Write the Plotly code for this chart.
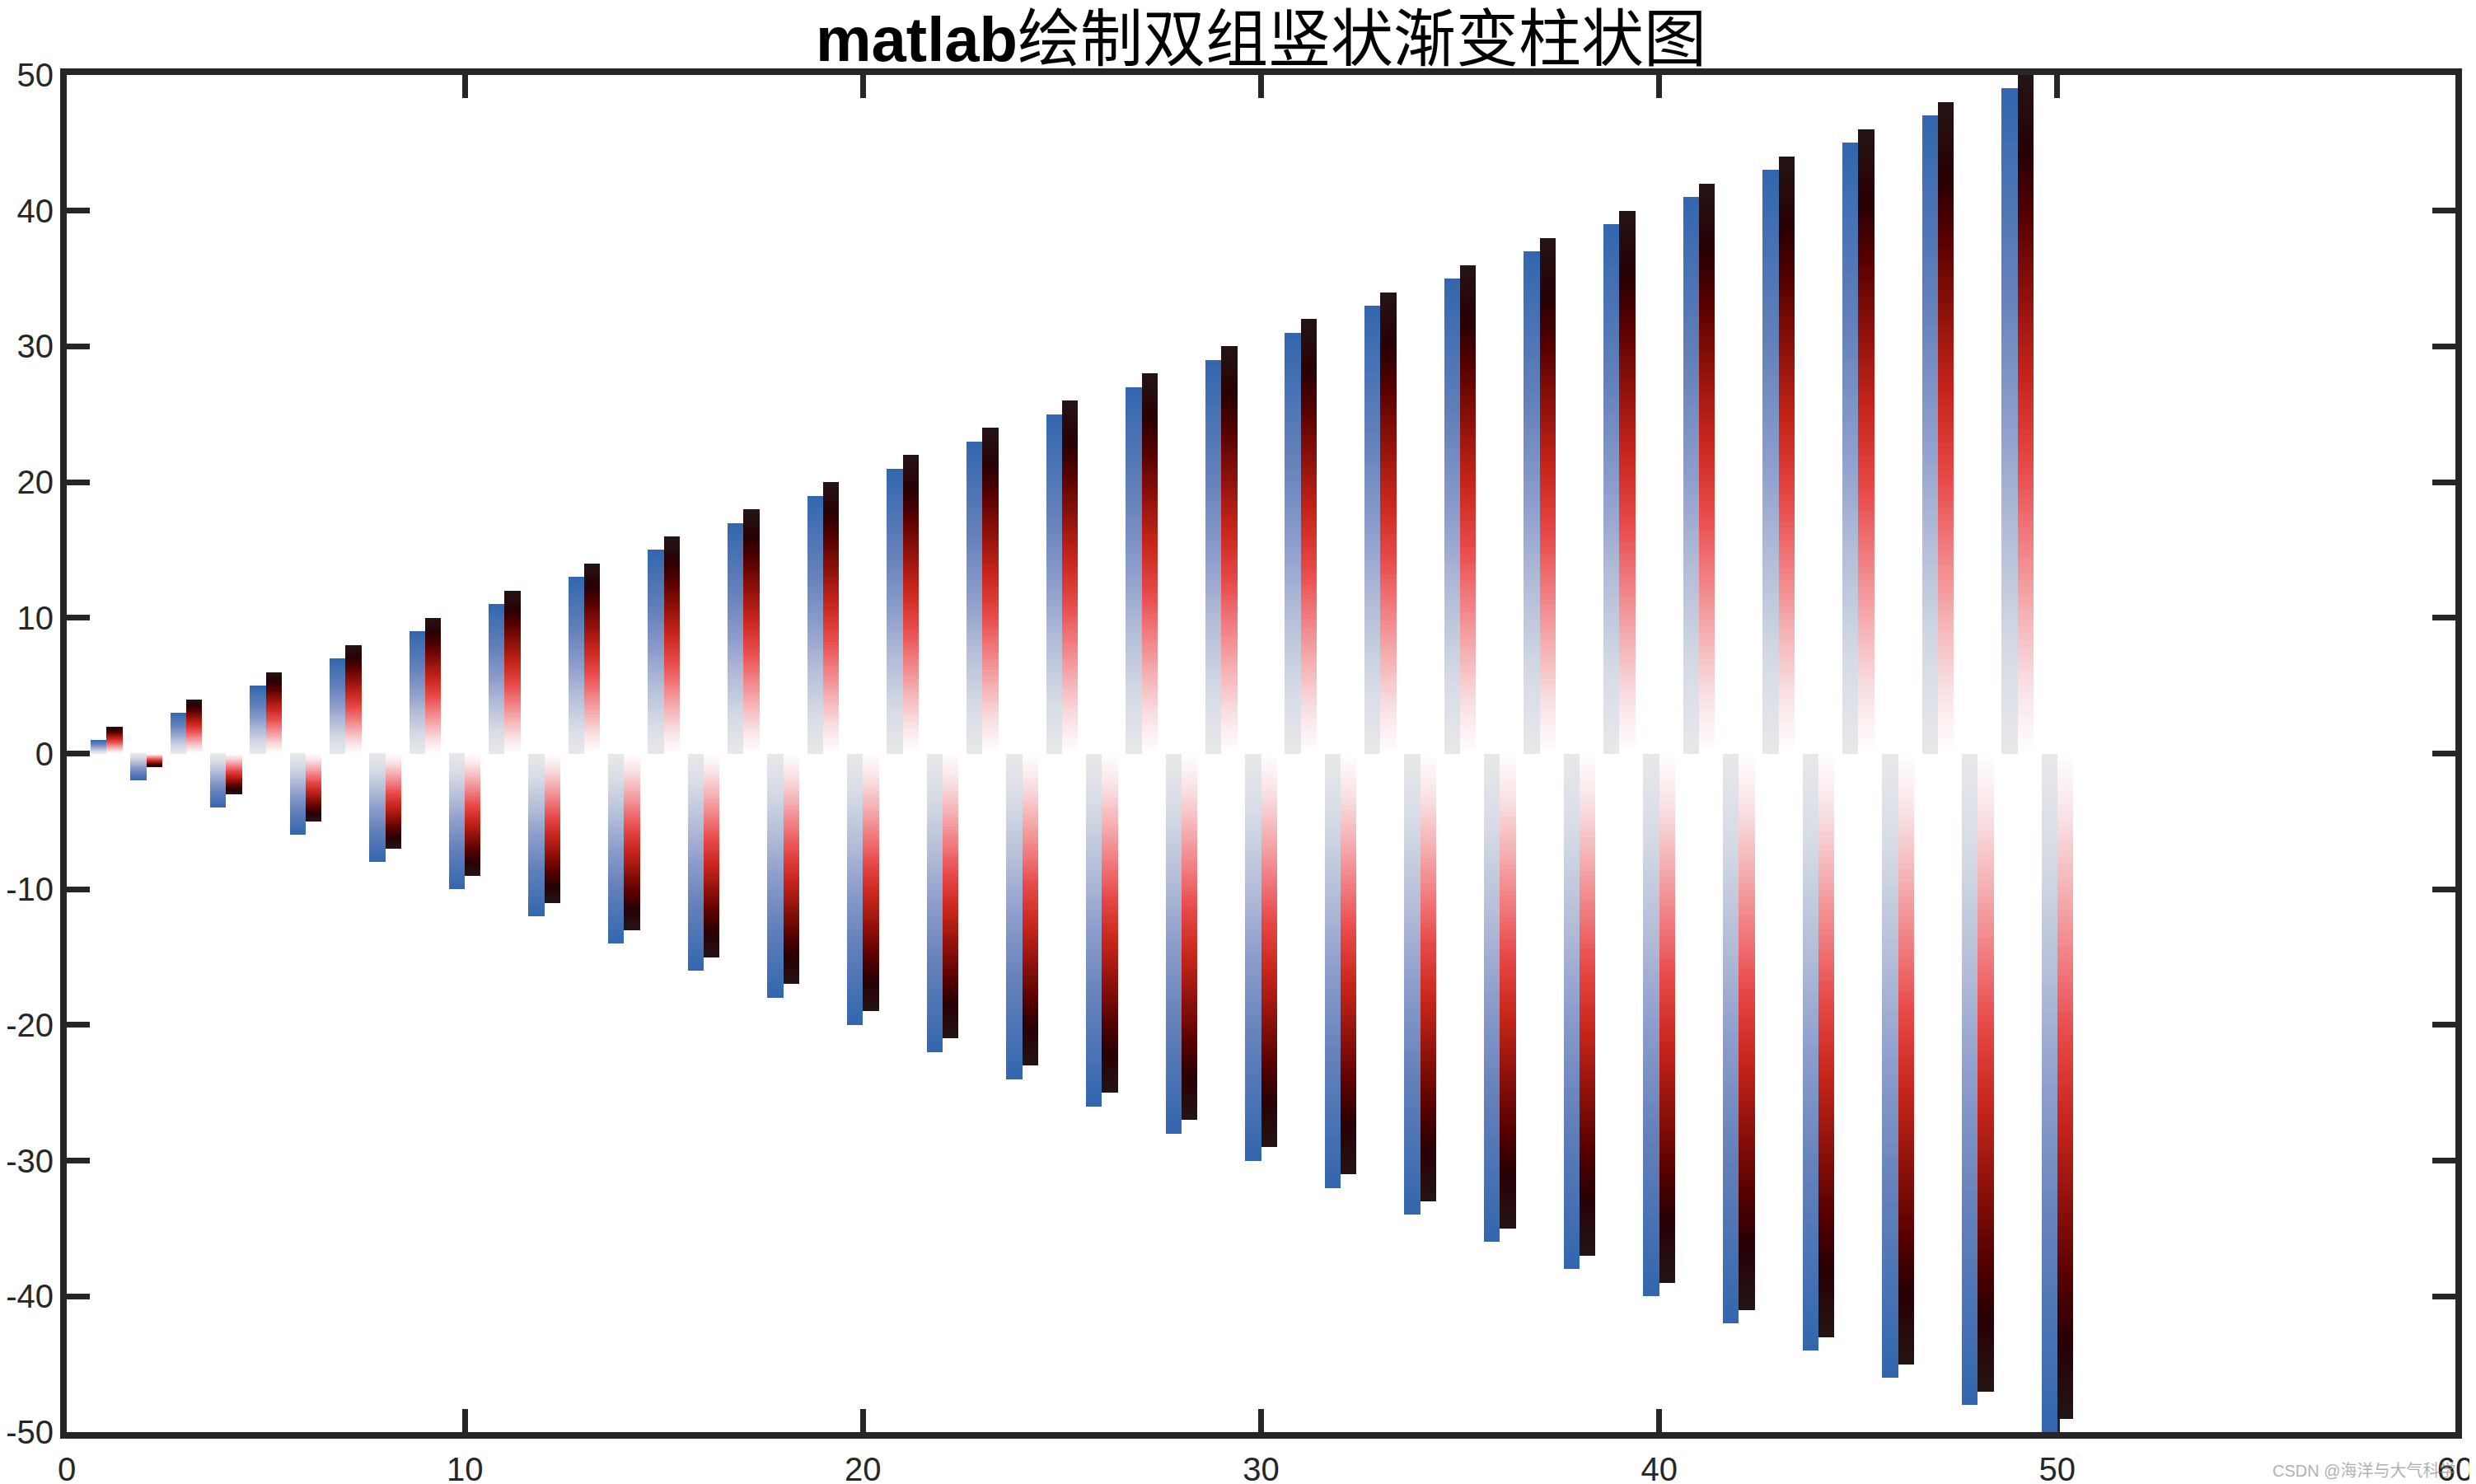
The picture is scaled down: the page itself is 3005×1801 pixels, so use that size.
import numpy as np
import plotly.graph_objects as go

# ---- data ----
x_vals = list(range(1, 51))
blue_vals = [1, -2, 3, -4, 5, -6, 7, -8, 9, -10, 11, -12, 13, -14, 15, -16, 17, -18, 19, -20,
             21, -22, 23, -24, 25, -26, 27, -28, 29, -30, 31, -32, 33, -34, 35, -36, 37, -38, 39, -40,
             41, -42, 43, -44, 45, -46, 47, -48, 49, -50]
red_vals = [2, -1, 4, -3, 6, -5, 8, -7, 10, -9, 12, -11, 14, -13, 16, -15, 18, -17, 20, -19,
            22, -21, 24, -23, 26, -25, 28, -27, 30, -29, 32, -31, 34, -33, 36, -35, 38, -37, 40, -39,
            42, -41, 44, -43, 46, -45, 48, -47, 50, -49]
x_ticks = [0, 10, 20, 30, 40, 50, 60]
y_ticks = [-50, -40, -30, -20, -10, 0, 10, 20, 30, 40, 50]
title_text = "<b>matlab</b>绘制双组竖状渐变柱状图"
watermark = "CSDN @海洋与大气科学"

# ---- gradient colormaps (fraction from base to tip) ----
blue_cmap = [(0.00, (232, 232, 234)), (0.15, (214, 219, 229)), (0.35, (176, 186, 214)),
             (0.50, (141, 157, 204)), (0.70, (100, 129, 186)), (1.00, (50, 102, 174))]
red_cmap = [(0.00, (255, 255, 255)), (0.10, (249, 224, 228)), (0.20, (245, 180, 182)),
            (0.32, (240, 122, 126)), (0.42, (232, 74, 74)), (0.55, (200, 38, 28)),
            (0.68, (140, 16, 10)), (0.80, (82, 0, 0)), (0.88, (40, 0, 4)), (1.00, (36, 20, 20))]


def cmap_color(cmap, t):
    pos = [p for p, _ in cmap]
    cols = np.array([c for _, c in cmap], dtype=float)
    r = np.interp(t, pos, cols[:, 0])
    g = np.interp(t, pos, cols[:, 1])
    b = np.interp(t, pos, cols[:, 2])
    return f"rgb({int(round(r))},{int(round(g))},{int(round(b))})"


NSEG = 90


def gradient_trace(xs, vals, cmap, offset, width, name):
    px, py, pc = [], [], []
    for xv, h in zip(xs, vals):
        # nested bars, longest first so shorter ones lie on top
        for k in range(NSEG, 0, -1):
            px.append(xv)
            py.append(h * k / NSEG)
            pc.append(cmap_color(cmap, (k - 0.5) / NSEG))
    return go.Bar(x=px, y=py, base=0, offset=offset, width=width,
                  marker=dict(color=pc, line=dict(width=0)),
                  name=name, showlegend=False, hoverinfo="skip")


fig = go.Figure()
fig.add_trace(gradient_trace(x_vals, blue_vals, blue_cmap, -0.4, 0.4, "组1"))
fig.add_trace(gradient_trace(x_vals, red_vals, red_cmap, 0.0, 0.4, "组2"))

axis_color = "#262626"
tick_font = dict(family="Liberation Sans, Arial, sans-serif", size=40, color=axis_color)

W, H = 3005, 1801
ML, MR, MT, MB = 73, 33, 83, 71
pw, ph = W - ML - MR, H - MT - MB

fig.update_layout(
    width=W, height=H,
    margin=dict(l=ML, r=MR, t=MT, b=MB, autoexpand=False),
    paper_bgcolor="white", plot_bgcolor="white",
    barmode="overlay", bargap=0,
    title=dict(text=title_text, x=0.5, xanchor="center", xref="paper",
               y=1 - 39 / H, yref="container", yanchor="middle", automargin=False,
               font=dict(family="Liberation Sans, Arial, Noto Sans CJK SC", size=76, color="black")),
    xaxis=dict(range=[0, 60], tickvals=x_ticks, ticktext=[str(v) for v in x_ticks],
               showgrid=False, zeroline=False, showline=True, linewidth=8, linecolor=axis_color,
               mirror="ticks", ticks="inside", ticklen=28, tickwidth=7, tickcolor=axis_color,
               tickfont=tick_font, ticklabelstandoff=3, layer="below traces", automargin=False),
    yaxis=dict(range=[-50, 50], tickvals=y_ticks, ticktext=[str(v) for v in y_ticks],
               showgrid=False, zeroline=False, showline=True, linewidth=8, linecolor=axis_color,
               mirror="ticks", ticks="inside", ticklen=28, tickwidth=7, tickcolor=axis_color,
               tickfont=tick_font, ticklabelstandoff=0, layer="below traces", automargin=False),
    annotations=[dict(text=watermark, xref="paper", yref="paper",
                      x=(2975 - ML) / pw, y=((H - MB) - 1777) / ph,
                      xanchor="right", yanchor="middle", showarrow=False,
                      font=dict(family="Liberation Sans, Noto Sans CJK SC", size=20,
                                color="rgba(150,150,150,0.75)"))],
)

fig.write_html("out.html")
